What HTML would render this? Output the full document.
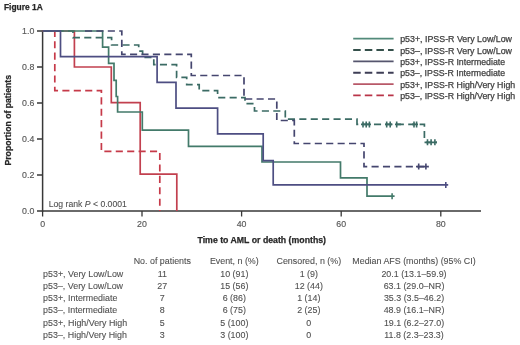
<!DOCTYPE html>
<html><head><meta charset="utf-8">
<style>
html,body{margin:0;padding:0;background:#fff;width:520px;height:345px;overflow:hidden;}
svg{display:block;font-family:"Liberation Sans",sans-serif;filter:blur(0.4px);}
text{stroke-linejoin:round;}
.t{fill:#505050;stroke:#505050;stroke-width:0.1px;font-size:8.9px;}
.b{fill:#282828;stroke:#282828;stroke-width:0.25px;font-weight:bold;font-size:8.6px;}
.tick{fill:#585858;stroke:#585858;stroke-width:0.15px;font-size:8.8px;}
.lg{fill:#404040;stroke:#404040;stroke-width:0.25px;font-size:8.4px;}
</style></head>
<body>
<svg width="520" height="345" viewBox="0 0 520 345">
<rect width="520" height="345" fill="#fff"/>
<!-- title -->
<text class="b" x="4" y="9.5" textLength="38.7" lengthAdjust="spacingAndGlyphs">Figure 1A</text>
<!-- y label -->
<text class="b" transform="translate(10.6,120.3) rotate(-90)" text-anchor="middle" textLength="90.5" lengthAdjust="spacingAndGlyphs">Proportion of patients</text>
<!-- y ticks -->
<g class="tick" text-anchor="end">
<text x="34.3" y="34.2">1.0</text>
<text x="34.3" y="70.2">0.8</text>
<text x="34.3" y="106.2">0.6</text>
<text x="34.3" y="142.2">0.4</text>
<text x="34.3" y="178.2">0.2</text>
<text x="34.3" y="214.2">0.0</text>
</g>
<!-- x ticks -->
<g class="tick" text-anchor="middle">
<text x="42.6" y="227">0</text>
<text x="142" y="227">20</text>
<text x="241.6" y="227">40</text>
<text x="341.2" y="227">60</text>
<text x="440.8" y="227">80</text>
</g>
<text class="b" x="197.5" y="242.5" textLength="128.5" lengthAdjust="spacingAndGlyphs">Time to AML or death (months)</text>
<text class="t" x="48.7" y="206.9" textLength="78.2" lengthAdjust="spacingAndGlyphs" style="font-size:8.6px">Log rank <tspan font-style="italic">P</tspan> &lt; 0.0001</text>

<!-- axes -->
<g stroke="#383838" stroke-width="1.5" fill="none">
<path d="M42.6,30.3 V211.7"/>
<path d="M41.9,210.9 H481"/>
<path stroke-width="1.3" d="M37,31 H42.6 M37,67 H42.6 M37,103 H42.6 M37,139 H42.6 M37,175 H42.6 M37,211 H42.6"/>
<path stroke-width="1.3" d="M42.6,211 V216.5 M142,211 V216.5 M241.6,211 V216.5 M341.2,211 V216.5 M440.8,211 V216.5"/>
</g>

<!-- curves -->
<g fill="none" stroke-width="1.7" stroke-linejoin="miter">
<!-- red dashed p53- H/VH -->
<path stroke="#c63a49" stroke-dasharray="7.1,4.31" stroke-dashoffset="0.41" d="M42.6,31 H54.8 V90.7 H101.4 V151.4 H159.8 V211"/>
<!-- red solid p53+ H/VH -->
<path stroke="#c2404f" d="M42.6,31 H74.4 V67 H111.3 V102.6 H140.2 V174.1 H176.8 V211"/>
<!-- green dashed p53- VL/L -->
<path stroke="#3b6b64" stroke-dasharray="7.1,4.31" stroke-dashoffset="8.81" d="M42.6,31 H73 V37.6 H111.6 V45 H138.7 V51.1 H142.6 V57.3 H153.8 V64.6 H176.6 V77.4 H186.7 V84.6 H199.2 V90.7 H217.6 V97.6 H245 V103.6 H254.5 V111 H285.3 V119.2 H357 V124.4 H424.4 V142.3 H437"/>
<!-- green solid p53+ VL/L -->
<path stroke="#437a6a" d="M42.6,31 H102.6 V47.2 H108.6 V63.4 H114 V80.4 H116.2 V96.5 H117.6 V112 H142.3 V130.1 H188.5 V146.4 H262 V162 H340.5 V177.9 H367 V196.2 H394.6"/>
<!-- blue dashed p53- Int -->
<path stroke="#45466f" stroke-dasharray="7.1,4.31" d="M84.98,31 H121.8 V54.4 H191.3 V75.5 H244 V99 H276.8 V120.5 H294.3 V143.5 H364 V166.6 H428.8"/>
<!-- blue solid p53+ Int -->
<path stroke="#4d4e82" d="M42.6,31 H60.5 V56.6 H157.1 V82.3 H176 V108.2 H217.6 V133.8 H263.2 V160.6 H273.2 V184.9 H448.2"/>
</g>
<!-- censor marks -->
<g fill="none" stroke-width="1.6">
<path stroke="#3b6b64" d="M363,121.4 V127.4 M366.2,121.4 V127.4 M369.4,121.4 V127.4 M386.7,121.4 V127.4 M390.2,121.4 V127.4 M396.7,121.4 V127.4 M414,121.4 V127.4 M416.6,121.4 V127.4 M427.5,139.3 V145.3 M431.1,139.3 V145.3 M434.9,139.3 V145.3"/>
<path stroke="#3b6b64" stroke-width="1.7" d="M361,124.4 H371 M385,124.4 H392 M395,124.4 H401 M412,124.4 H418 M426,142.3 H437"/>
<path stroke="#45466f" d="M418.7,163.6 V169.6 M425.9,163.6 V169.6"/>
<path stroke="#45466f" stroke-width="1.7" d="M416,166.6 H428.8"/>
<path stroke="#437a6a" d="M392.1,193.2 V199.2"/>
<path stroke="#4d4e82" d="M445.8,181.9 V187.9"/>
</g>

<!-- legend -->
<g fill="none" stroke-width="1.9">
<path stroke="#528a7a" d="M353.2,38.6 H393.6"/>
<path stroke="#35504b" stroke-dasharray="7.5,4.1" d="M353.2,50.0 H393.6"/>
<path stroke="#56566e" d="M353.2,61.4 H393.6"/>
<path stroke="#3e3e56" stroke-dasharray="7.5,4.1" d="M353.2,72.8 H393.6"/>
<path stroke="#b85868" d="M353.2,84.1 H393.6"/>
<path stroke="#b93448" stroke-dasharray="7.5,4.1" d="M353.2,95.4 H393.6"/>
</g>
<g class="lg">
<text x="400.2" y="42.2" textLength="111.8" lengthAdjust="spacingAndGlyphs">p53+, IPSS-R Very Low/Low</text>
<text x="400.2" y="53.55" textLength="111.8" lengthAdjust="spacingAndGlyphs">p53–, IPSS-R Very Low/Low</text>
<text x="400.2" y="64.9" textLength="104.9" lengthAdjust="spacingAndGlyphs">p53+, IPSS-R Intermediate</text>
<text x="400.2" y="76.25" textLength="104.9" lengthAdjust="spacingAndGlyphs">p53–, IPSS-R Intermediate</text>
<text x="400.2" y="87.6" textLength="115" lengthAdjust="spacingAndGlyphs">p53+, IPSS-R High/Very High</text>
<text x="400.2" y="98.95" textLength="115" lengthAdjust="spacingAndGlyphs">p53–, IPSS-R High/Very High</text>
</g>

<!-- table -->
<g class="t">
<g text-anchor="middle">
<text x="162.3" y="264.3">No. of patients</text>
<text x="234.3" y="264.3">Event, n (%)</text>
<text x="308.8" y="264.3">Censored, n (%)</text>
<text x="414" y="264.3">Median AFS (months) (95% CI)</text>
</g>
<text x="43.1" y="276.55">p53+, Very Low/Low</text>
<text x="43.1" y="288.8">p53–, Very Low/Low</text>
<text x="43.1" y="301.05">p53+, Intermediate</text>
<text x="43.1" y="313.3">p53–, Intermediate</text>
<text x="43.1" y="325.55">p53+, High/Very High</text>
<text x="43.1" y="337.8">p53–, High/Very High</text>
<g text-anchor="middle">
<text x="162.3" y="276.55">11</text>
<text x="162.3" y="288.8">27</text>
<text x="162.3" y="301.05">7</text>
<text x="162.3" y="313.3">8</text>
<text x="162.3" y="325.55">5</text>
<text x="162.3" y="337.8">3</text>
<text x="234.3" y="276.55">10 (91)</text>
<text x="234.3" y="288.8">15 (56)</text>
<text x="234.3" y="301.05">6 (86)</text>
<text x="234.3" y="313.3">6 (75)</text>
<text x="234.3" y="325.55">5 (100)</text>
<text x="234.3" y="337.8">3 (100)</text>
<text x="308.8" y="276.55">1 (9)</text>
<text x="308.8" y="288.8">12 (44)</text>
<text x="308.8" y="301.05">1 (14)</text>
<text x="308.8" y="313.3">2 (25)</text>
<text x="308.8" y="325.55">0</text>
<text x="308.8" y="337.8">0</text>
<text x="414" y="276.55">20.1 (13.1–59.9)</text>
<text x="414" y="288.8">63.1 (29.0–NR)</text>
<text x="414" y="301.05">35.3 (3.5–46.2)</text>
<text x="414" y="313.3">48.9 (16.1–NR)</text>
<text x="414" y="325.55">19.1 (6.2–27.0)</text>
<text x="414" y="337.8">11.8 (2.3–23.3)</text>
</g>
</g>
</svg>
</body></html>
